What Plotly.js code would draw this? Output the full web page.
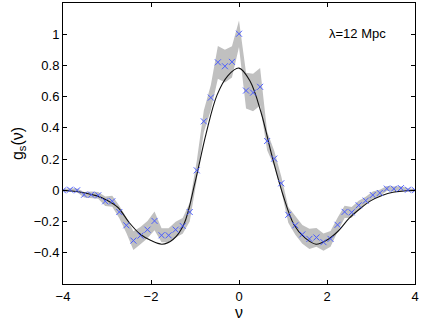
<!DOCTYPE html>
<html>
<head>
<meta charset="utf-8">
<script src="https://cdn.plot.ly/plotly-3.0.1.min.js"></script>
<style>
  html, body { margin: 0; padding: 0; background: #fff; }
  #plot { width: 425px; height: 323px; }
</style>
</head>
<body>
<div id="plot"></div>
<script>
// measured genus points (x markers), nu = -4 .. 4 step 0.16
const nuPts = [-4.00, -3.84, -3.68, -3.52, -3.36, -3.20, -3.04, -2.88, -2.72, -2.56,
  -2.40, -2.24, -2.08, -1.92, -1.76, -1.60, -1.44, -1.28, -1.12, -0.96,
  -0.80, -0.64, -0.48, -0.32, -0.16, 0.00, 0.16, 0.32, 0.48, 0.64,
  0.80, 0.96, 1.12, 1.28, 1.44, 1.60, 1.76, 1.92, 2.08, 2.24,
  2.40, 2.56, 2.72, 2.88, 3.04, 3.20, 3.36, 3.52, 3.68, 3.84, 4.00];
const gPts = [0.000, 0.004, 0.000, -0.028, -0.028, -0.032, -0.070, -0.070, -0.139, -0.224,
  -0.322, -0.290, -0.252, -0.196, -0.288, -0.288, -0.252, -0.228, -0.139, 0.128,
  0.442, 0.594, 0.820, 0.795, 0.823, 1.003, 0.639, 0.626, 0.663, 0.316,
  0.203, 0.045, -0.157, -0.224, -0.282, -0.311, -0.302, -0.332, -0.311, -0.221,
  -0.138, -0.141, -0.096, -0.066, -0.030, -0.017, 0.011, 0.010, 0.014, 0.004, 0.001];
// half width of the grey band at each point
const gSpread = [0.008, 0.010, 0.012, 0.018, 0.020, 0.022, 0.030, 0.035, 0.040, 0.050,
  0.060, 0.055, 0.055, 0.060, 0.045, 0.045, 0.050, 0.050, 0.060, 0.060,
  0.070, 0.080, 0.105, 0.105, 0.100, 0.085, 0.115, 0.120, 0.120, 0.060,
  0.050, 0.045, 0.050, 0.060, 0.060, 0.065, 0.060, 0.055, 0.050, 0.045,
  0.040, 0.035, 0.030, 0.025, 0.022, 0.020, 0.016, 0.014, 0.012, 0.010, 0.008];

// theory curve (black line)
const nuCurve = [-4.00, -3.75, -3.50, -3.25, -3.00, -2.75, -2.50, -2.25, -2.00, -1.75,
  -1.50, -1.25, -1.00, -0.75, -0.50, -0.25, 0.00, 0.25, 0.50, 0.75,
  1.00, 1.25, 1.50, 1.75, 2.00, 2.25, 2.50, 2.75, 3.00, 3.25, 3.50, 3.75, 4.00];
const gCurve = [0.000, -0.006, -0.017, -0.034, -0.063, -0.110, -0.205, -0.280, -0.322, -0.345,
  -0.315, -0.215, 0.050, 0.360, 0.610, 0.735, 0.783, 0.700, 0.500, 0.220,
  -0.030, -0.220, -0.305, -0.345, -0.318, -0.262, -0.180, -0.118, -0.066, -0.033, -0.012, -0.004, 0.000];

const xTicks = [-4, -2, 0, 2, 4];
const yTicks = [-0.4, -0.2, 0, 0.2, 0.4, 0.6, 0.8, 1];

const upper = gPts.map((v, i) => v + gSpread[i]);
const lower = gPts.map((v, i) => v - gSpread[i]);

const band = {
  x: nuPts.concat(nuPts.slice().reverse()),
  y: upper.concat(lower.slice().reverse()),
  fill: 'toself',
  fillcolor: '#c0c0c0',
  line: { width: 0 },
  mode: 'lines',
  hoverinfo: 'skip',
  showlegend: false
};
const theory = {
  x: nuCurve,
  y: gCurve,
  mode: 'lines',
  line: { color: '#111', width: 1.1, shape: 'spline', smoothing: 1 },
  showlegend: false
};
const points = {
  x: nuPts,
  y: gPts,
  mode: 'markers',
  marker: { symbol: 'x-thin', size: 6, line: { color: '#4a5cff', width: 1 } },
  showlegend: false
};

const fontFam = 'Liberation Sans, Arial, sans-serif';
const axisFont = { family: fontFam, size: 13, color: '#000' };

const layout = {
  width: 425,
  height: 323,
  margin: { l: 63, r: 10, t: 3, b: 39 },
  paper_bgcolor: '#fff',
  plot_bgcolor: '#fff',
  font: axisFont,
  showlegend: false,
  xaxis: {
    range: [-4, 4],
    tickvals: xTicks,
    ticks: 'inside',
    ticklen: 4,
    tickcolor: '#000',
    showline: true,
    linecolor: '#000',
    linewidth: 1,
    mirror: 'ticks',
    showgrid: false,
    zeroline: false,
    tickfont: axisFont,
    title: { text: 'ν', font: { family: fontFam, size: 16, color: '#000' }, standoff: 3 }
  },
  yaxis: {
    range: [-0.6, 1.2],
    tickvals: yTicks,
    ticks: 'inside',
    ticklen: 4,
    tickcolor: '#000',
    showline: true,
    linecolor: '#000',
    linewidth: 1,
    mirror: 'ticks',
    showgrid: false,
    zeroline: false,
    tickfont: axisFont,
    title: { text: 'g<sub>s</sub>(ν)', font: { family: fontFam, size: 16, color: '#000' }, standoff: 6 }
  },
  annotations: [{
    x: 2.0, y: 1.005, xref: 'x', yref: 'y',
    xanchor: 'left', yanchor: 'middle',
    text: 'λ=12 Mpc',
    showarrow: false,
    font: { family: fontFam, size: 13, color: '#000' }
  }]
};

Plotly.newPlot('plot', [band, theory, points], layout, { displayModeBar: false, staticPlot: true });
</script>
</body>
</html>
